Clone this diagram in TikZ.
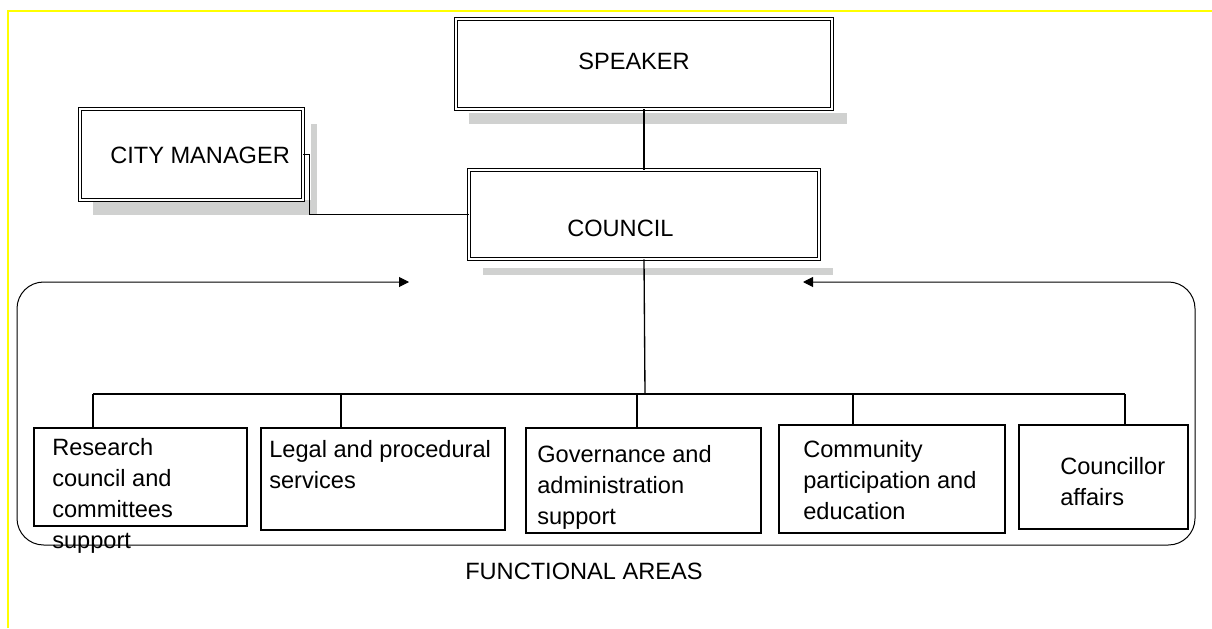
\documentclass[tikz,border=0pt]{standalone}
\usepackage{fontspec}
\setmainfont{Liberation Sans}
\usepackage{tikz}
\usetikzlibrary{arrows.meta,positioning,fit,calc}
\definecolor{shadowgray}{HTML}{D0D1D0}
\definecolor{frameyellow}{HTML}{FFFF00}

\begin{document}
\begin{tikzpicture}[x=0.75pt, y=-0.75pt,
  dbox/.style={draw, fill=white, double, line width=0.7pt, double distance=1.4pt, inner sep=0pt},
  area/.style={draw, line width=0.8pt, inner sep=0pt},
  lbl/.style={font=\fontsize{17.7}{23.25}\selectfont, inner sep=0pt},
  mlbl/.style={lbl, align=left, anchor=north west},
  shd/.style={fill=shadowgray, draw=none},
  link/.style={line width=1pt},
  arr/.style={{Triangle[length=7.5pt,width=7.5pt]}-{Triangle[length=7.5pt,width=7.5pt]}, line width=0.75pt, rounded corners=20pt}
]
\useasboundingbox (0,0) rectangle (1212,628);
\draw[frameyellow, line width=1.5pt] (8,628) -- (8,11) -- (1212,11);

% shadows
\fill[shd] (469,113) rectangle (847,124);
\fill[shd] (311,124) rectangle (317,215);
\fill[shd] (93,200) rectangle (317,215);
\fill[shd] (483,268) rectangle (833,275);

\node[dbox, fit={(456,19) (832,109)}] (speaker) {};
\node[dbox, fit={(80,109) (303,200)}] (manager) {};
\node[dbox, fit={(469,170) (819,259)}] (council) {};
\node[lbl, anchor=base west] (speakerlbl) at (578,69) {SPEAKER};
\node[lbl, anchor=base west] (managerlbl) at (110,163) {CITY MANAGER};
\node[lbl, anchor=base west] (councillbl) at (567,236) {COUNCIL};

\draw[link] (speaker) -- (council);
\draw[link] (manager.east) -- ++(6,0) |- (council.west);

% functional areas
\node[area, fit={(34,428) (247,526)}] (fa1) {};
\node[area, fit={(261,428) (505,530)}] (fa2) {};
\node[area, fit={(526,428) (761,533)}] (fa3) {};
\node[area, fit={(779,425) (1005,533)}] (fa4) {};
\node[area, fit={(1019,425) (1188,529)}] (fa5) {};
\node[mlbl] (fa1lbl) at (52,438) {Research\\council and\\committees\\support};
\node[mlbl] (fa2lbl) at (269,440) {Legal and procedural\\services};
\node[mlbl] (fa3lbl) at (537,445) {Governance and\\administration\\support};
\node[mlbl] (fa4lbl) at (803,440) {Community\\participation and\\education};
\node[mlbl] (fa5lbl) at (1060,457) {Councillor\\affairs};
\node[lbl, anchor=base west] (arealbl) at (465,579) {FUNCTIONAL AREAS};

\coordinate (hub) at (645,394);
\draw[link] (council.south) -- (hub);
\foreach \n/\x in {fa1/93, fa2/341, fa3/637, fa4/853, fa5/1125} {
  \coordinate (d\n) at (\x,394);
  \draw[link] (d\n) -- (d\n |- \n.north);
}
\draw[link] (dfa1) -- (dfa5);

\coordinate (inL) at (409,282);
\coordinate (inR) at (803,282);
\draw[arr] (inL) -- (17,282) -- (17,545) -- (1195,545) -- (1195,282) -- (inR);

\end{tikzpicture}
\end{document}
